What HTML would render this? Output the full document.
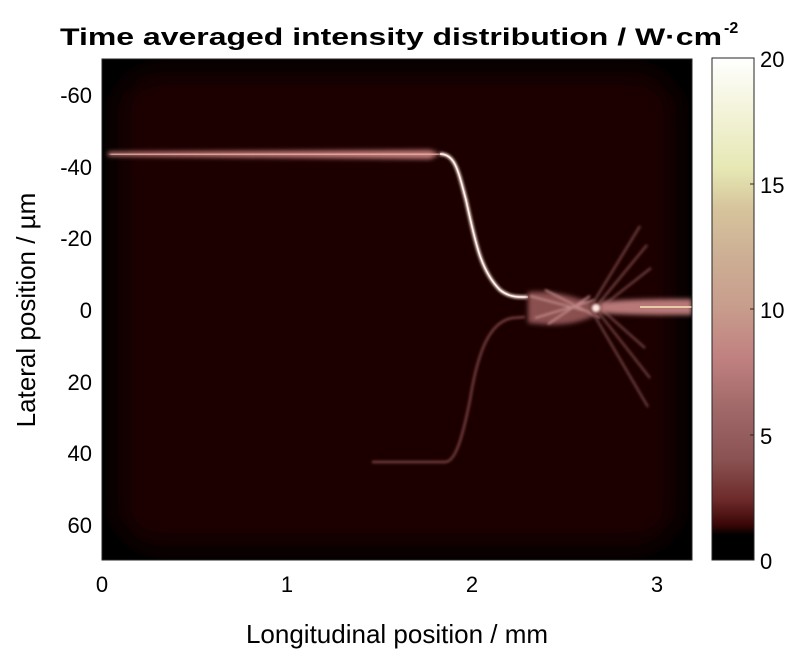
<!DOCTYPE html>
<html><head><meta charset="utf-8"><style>
html,body{margin:0;padding:0;background:#fff;width:800px;height:653px;overflow:hidden}
</style></head><body>
<svg width="800" height="653" viewBox="0 0 800 653" xmlns="http://www.w3.org/2000/svg" font-family="Liberation Sans, Arial, sans-serif">
<defs>
<linearGradient id="cb" x1="0" y1="1" x2="0" y2="0">
<stop offset="0" stop-color="#000"/>
<stop offset="0.05" stop-color="#000"/>
<stop offset="0.07" stop-color="#3a0606"/>
<stop offset="0.12" stop-color="#6e2a2a"/>
<stop offset="0.2" stop-color="#8a5252"/>
<stop offset="0.3" stop-color="#a06868"/>
<stop offset="0.4" stop-color="#c08080"/>
<stop offset="0.5" stop-color="#c89c8c"/>
<stop offset="0.6" stop-color="#ccae94"/>
<stop offset="0.7" stop-color="#d6c49c"/>
<stop offset="0.78" stop-color="#e6e8b4"/>
<stop offset="0.9" stop-color="#f4f4dc"/>
<stop offset="1" stop-color="#ffffff"/>
</linearGradient>
<filter id="b1" x="-20%" y="-20%" width="140%" height="140%"><feGaussianBlur stdDeviation="1.2"/></filter>
<filter id="b3" x="-20%" y="-50%" width="140%" height="200%"><feGaussianBlur stdDeviation="2.5"/></filter>
<filter id="vig" x="-10%" y="-10%" width="120%" height="120%"><feGaussianBlur stdDeviation="14"/></filter>
<clipPath id="pc"><rect x="102" y="59" width="590" height="501"/></clipPath>
</defs>
<text x="391" y="45" font-size="24" font-weight="bold" text-anchor="middle" textLength="662" lengthAdjust="spacingAndGlyphs">Time averaged intensity distribution / W·cm</text>
<text x="724" y="33" font-size="16" font-weight="bold">-2</text>
<g clip-path="url(#pc)">
<rect x="102" y="59" width="590" height="501" fill="#000"/>
<rect x="118" y="72" width="558" height="474" rx="40" fill="#1e0202" filter="url(#vig)"/>
<!-- upper beam -->
<path d="M108,152 L430,150 L440,154 L430,159 L108,156 Z" fill="#c07a78" filter="url(#b3)"/>
<path d="M110,154.5 L440,154" stroke="#f0b4aa" stroke-width="3" filter="url(#b1)"/>
<path d="M440,154 C455,154 458,170 466,200 C475,240 480,270 500,290 C510,298 520,297 528,297" fill="none" stroke="#fbe0d6" stroke-width="3.5" filter="url(#b1)"/>
<path d="M440,154 C455,154 458,170 466,200 C475,240 480,270 500,290 C510,298 520,297 528,297" fill="none" stroke="#fff4ee" stroke-width="1.5"/>
<!-- lower faint beam -->
<path d="M372,462 L445,462 C455,462 462,440 470,400 C478,350 490,322 512,318 L525,317" fill="none" stroke="#7e4444" stroke-width="2.2" filter="url(#b1)"/>
<!-- mixing region -->
<path d="M528,292 C560,290 580,300 600,305 L600,313 C575,326 555,326 528,323 Z" fill="#8a5050" filter="url(#b3)"/>
<path d="M530,296 L590,312 M535,318 L595,300 M545,290 L600,318 M548,324 L590,296" stroke="#c08888" stroke-width="2" filter="url(#b1)"/>
<!-- spikes -->
<g stroke="#704040" stroke-width="2.2" filter="url(#b1)" fill="none">
<path d="M590,308 L640,226"/><path d="M595,308 L647,245"/><path d="M600,308 L651,268"/>
<path d="M590,308 L648,407"/><path d="M595,308 L650,378"/><path d="M600,308 L645,348"/>
</g>
<!-- output beam -->
<path d="M600,302 C630,299 660,299 692,299 L692,315 C660,315 630,315 600,313 Z" fill="#b87878" filter="url(#b3)"/>
<path d="M598,307 L692,307" stroke="#f0c0a8" stroke-width="4" filter="url(#b1)"/>
<path d="M640,307 L692,307" stroke="#f8e8b8" stroke-width="1.5"/>
<circle cx="596" cy="308" r="4" fill="#ffe8e0" filter="url(#b1)"/>
</g>
<rect x="102" y="59" width="590" height="501" fill="none" stroke="#262626" stroke-width="1"/>
<!-- colorbar -->
<rect x="712" y="58" width="42" height="502" fill="url(#cb)" stroke="#262626" stroke-width="1"/>
<g stroke="#262626" stroke-width="1">
<line x1="750" y1="184" x2="754" y2="184"/><line x1="750" y1="309" x2="754" y2="309"/><line x1="750" y1="435" x2="754" y2="435"/>
</g>
<g font-size="22" fill="#000">
<text x="760" y="67">20</text><text x="760" y="193">15</text><text x="760" y="318">10</text><text x="760" y="444">5</text><text x="760" y="569">0</text>
</g>
<!-- y ticks -->
<g font-size="22" text-anchor="end" fill="#000">
<text x="92" y="103">-60</text><text x="92" y="175">-40</text><text x="92" y="246">-20</text>
<text x="92" y="318">0</text><text x="92" y="390">20</text><text x="92" y="461">40</text><text x="92" y="533">60</text>
</g>
<g font-size="22" text-anchor="middle" fill="#000">
<text x="102" y="592">0</text><text x="287" y="592">1</text><text x="472" y="592">2</text><text x="657" y="592">3</text>
</g>
<text x="397" y="643" font-size="26" text-anchor="middle">Longitudinal position / mm</text>
<text transform="translate(35,310) rotate(-90)" font-size="26" text-anchor="middle">Lateral position / µm</text>
</svg>
</body></html>
